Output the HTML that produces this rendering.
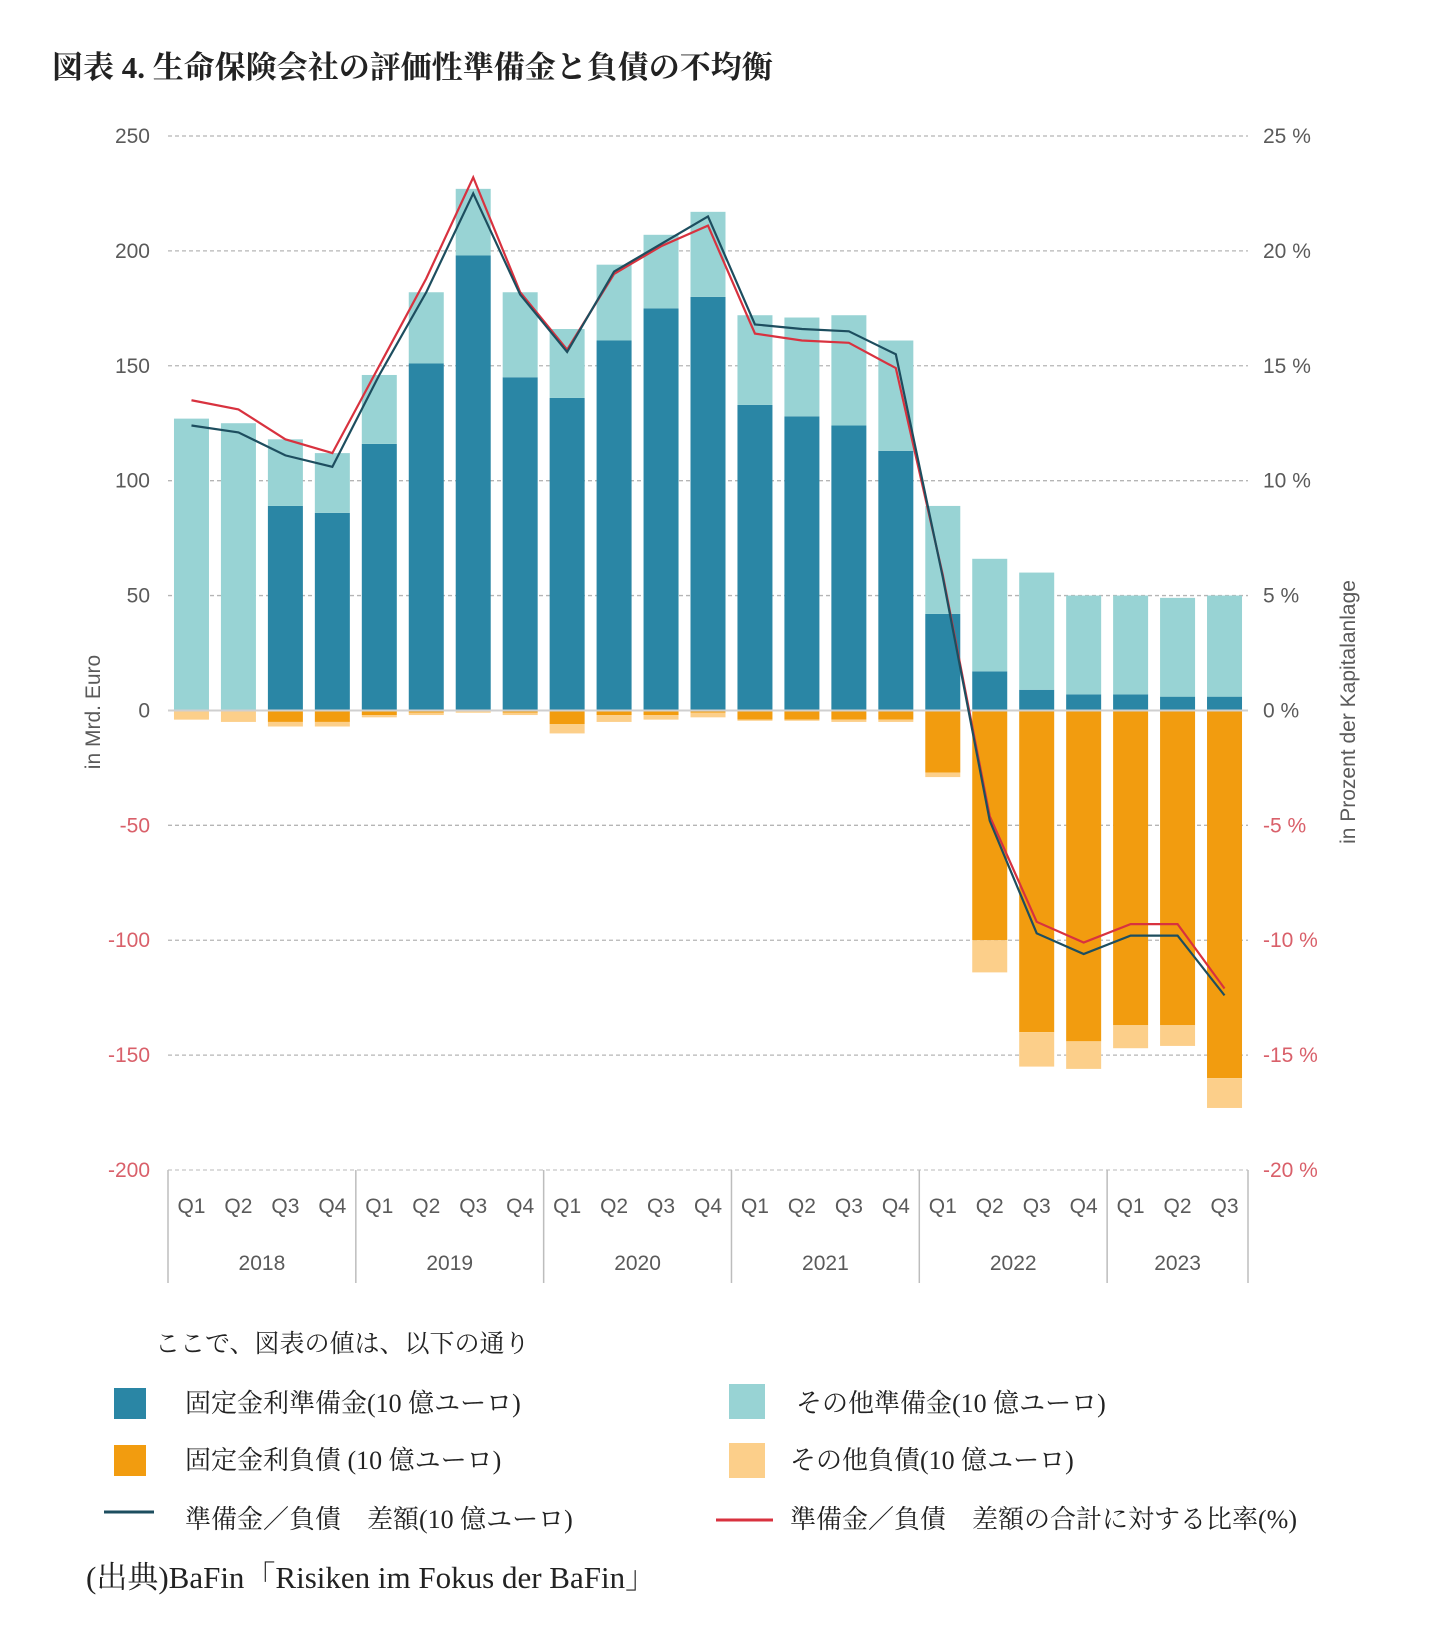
<!DOCTYPE html>
<html><head><meta charset="utf-8"><style>
html,body{margin:0;padding:0;background:#fff;}
svg{display:block;}
.ax{font-family:"Liberation Sans","DejaVu Sans",sans-serif;font-size:21px;fill:#5a5a5a;}
.neg{fill:#d9606a;}
.jp{font-family:"Liberation Serif","Noto Serif CJK SC",serif;fill:#222;}
</style></head><body>
<svg id="chart" width="1431" height="1628" viewBox="0 0 1431 1628" xmlns="http://www.w3.org/2000/svg">
<text class="jp" x="52" y="78" font-size="31" font-weight="bold">図表 4. 生命保険会社の評価性準備金と負債の不均衡</text>
<g id="grid"></g>
<g id="bars"></g>
<g id="lines"></g>
<g id="xaxis"></g>
<text class="ax" font-size="21" transform="translate(100,712) rotate(-90)" text-anchor="middle">in Mrd. Euro</text>
<text class="ax" font-size="21" transform="translate(1355,712) rotate(-90)" text-anchor="middle">in Prozent der Kapitalanlage</text>
<g>
<text class="jp" x="155" y="1352" font-size="25">ここで、図表の値は、以下の通り</text>
<rect x="114" y="1388" width="32" height="31" fill="#2a86a5"/>
<text class="jp" x="185" y="1412" font-size="26">固定金利準備金(10 億ユーロ)</text>
<rect x="729" y="1384" width="36" height="35" fill="#98d3d4"/>
<text class="jp" x="796" y="1412" font-size="26">その他準備金(10 億ユーロ)</text>
<rect x="114" y="1445" width="32" height="31" fill="#f29c0f"/>
<text class="jp" x="185" y="1469" font-size="26">固定金利負債 (10 億ユーロ)</text>
<rect x="729" y="1443" width="36" height="35" fill="#fccf8a"/>
<text class="jp" x="790" y="1469" font-size="26">その他負債(10 億ユーロ)</text>
<line x1="104" y1="1512" x2="154" y2="1512" stroke="#1d4e5f" stroke-width="3"/>
<text class="jp" x="185" y="1528" font-size="26">準備金／負債　差額(10 億ユーロ)</text>
<line x1="716" y1="1520" x2="773" y2="1520" stroke="#d8323f" stroke-width="3"/>
<text class="jp" x="790" y="1528" font-size="26">準備金／負債　差額の合計に対する比率(%)</text>
</g>
<text class="jp" x="86" y="1588" font-size="31">(出典)BaFin「Risiken im Fokus der BaFin」</text>
</svg>
<script>
const quarters = ["Q1","Q2","Q3","Q4","Q1","Q2","Q3","Q4","Q1","Q2","Q3","Q4","Q1","Q2","Q3","Q4","Q1","Q2","Q3","Q4","Q1","Q2","Q3"];
const years = ["2018","2019","2020","2021","2022","2023"];
const yearCounts = [4,4,4,4,4,3];
const fixedReserves = [0,0,89,86,116,151,198,145,136,161,175,180,133,128,124,113,42,17,9,7,7,6,6];
const totalReserves = [127,125,118,112,146,182,227,182,166,194,207,217,172,171,172,161,89,66,60,50,50,49,50];
const fixedLiabilities = [0,0,-5,-5,-2,-1,0,-1,-6,-2,-2,-1,-4,-4,-4,-4,-27,-100,-140,-144,-137,-137,-160];
const totalLiabilities = [-4,-5,-7,-7,-3,-2,-1,-2,-10,-5,-4,-3,-4.5,-4.5,-5,-5,-29,-114,-155,-156,-147,-146,-173];
const difference = [124,121,111,106,146,182,225,181,156,191,203,215,168,166,165,155,58,-48,-97,-106,-98,-98,-124];
const ratioPct = [13.5,13.1,11.8,11.2,15.0,18.8,23.2,18.2,15.7,19.0,20.2,21.1,16.4,16.1,16.0,14.9,5.9,-4.6,-9.2,-10.1,-9.3,-9.3,-12.1];
const leftTicks = [250,200,150,100,50,0,-50,-100,-150,-200];
const rightTicks = ["25 %","20 %","15 %","10 %","5 %","0 %","-5 %","-10 %","-15 %","-20 %"];

const NS="http://www.w3.org/2000/svg";
const X0=168,X1=1248,Y0=136,Y1=1170,VMAX=250,VMIN=-200;
const n=quarters.length, band=(X1-X0)/n, bw=35;
const y=v=>Y0+(VMAX-v)/(VMAX-VMIN)*(Y1-Y0);
const yp=p=>y(p*10);
const xc=i=>X0+band*(i+0.5);
function mk(tag,parent,attrs){const e=document.createElementNS(NS,tag);for(const k in attrs)e.setAttribute(k,attrs[k]);parent.appendChild(e);return e;}
const grid=document.getElementById('grid'),bars=document.getElementById('bars'),lines=document.getElementById('lines'),xa=document.getElementById('xaxis');
leftTicks.forEach((v,i)=>{
  const yy=y(v);
  if(v!==0&&v!==VMIN){const l=mk('line',grid,{x1:X0,x2:X1,y1:yy,y2:yy,stroke:'#b5b5b5','stroke-width':1.3,'stroke-dasharray':'4 3'});
  
  }
  const t=mk('text',grid,{x:150,y:yy+7,'text-anchor':'end',class:v<0?'ax neg':'ax'});t.textContent=v;
  
  
  const r=mk('text',grid,{x:1263,y:yy+7,class:v<0?'ax neg':'ax'});r.textContent=rightTicks[i];
  
  
});
const bl=mk('line',grid,{x1:X0,x2:X1,y1:y(VMIN),y2:y(VMIN),stroke:'#c8c8c8','stroke-width':1.3,'stroke-dasharray':'4 3'});


function bar(i,a,b,fill,name){const t=Math.min(y(a),y(b)),h=Math.abs(y(a)-y(b));if(h<=0)return;
  const r=mk('rect',bars,{x:xc(i)-bw/2,y:t,width:bw,height:h,fill:fill});
  
  }
for(let i=0;i<n;i++){
  bar(i,0,fixedReserves[i],'#2a86a5','bar-fixed-reserves');
  bar(i,fixedReserves[i],totalReserves[i],'#98d3d4','bar-other-reserves');
  bar(i,0,fixedLiabilities[i],'#f29c0f','bar-fixed-liabilities');
  bar(i,fixedLiabilities[i],totalLiabilities[i],'#fccf8a','bar-other-liabilities');
}
const zl=mk('line',bars,{x1:X0,x2:X1,y1:y(0),y2:y(0),stroke:'#cfcfcf','stroke-width':2});


const pr=mk('polyline',lines,{points:ratioPct.map((p,i)=>xc(i)+','+yp(p)).join(' '),fill:'none',stroke:'#d8323f','stroke-width':2.2});


const pd=mk('polyline',lines,{points:difference.map((v,i)=>xc(i)+','+y(v)).join(' '),fill:'none',stroke:'#1d4e5f','stroke-width':2.2});


quarters.forEach((q,i)=>{const t=mk('text',xa,{x:xc(i),y:1213,'text-anchor':'middle',class:'ax'});t.textContent=q;
  
  });
let start=0;
const sepAt=[0];
years.forEach((yr,k)=>{const c=yearCounts[k];const t=mk('text',xa,{x:X0+band*(start+c/2),y:1270,'text-anchor':'middle',class:'ax'});t.textContent=yr;
  
  
  start+=c;sepAt.push(start);});
sepAt.forEach(s=>{const l=mk('line',xa,{x1:X0+band*s,x2:X0+band*s,y1:1170,y2:1283,stroke:'#bdbdbd','stroke-width':1.5});
  
  });
</script>
</body></html>
